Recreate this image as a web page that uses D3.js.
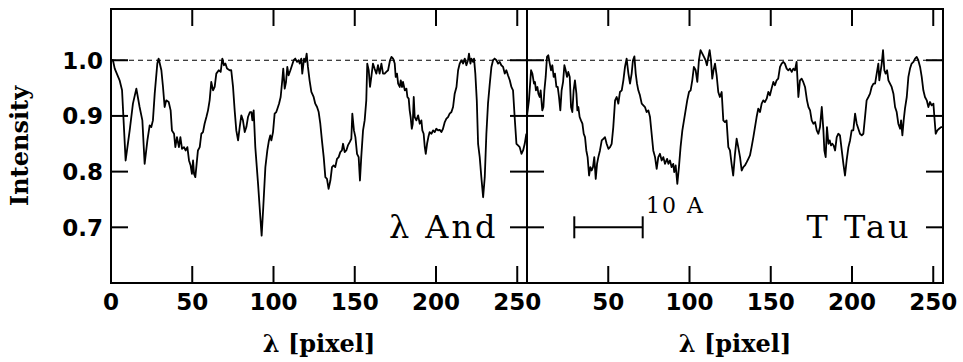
<!DOCTYPE html>
<html>
<head>
<meta charset="utf-8">
<script src="https://cdn.jsdelivr.net/npm/d3@7"></script>
<style>
  body { margin: 0; background: #fff; }
  .tick-label { font-family: "DejaVu Sans", sans-serif; font-weight: bold; font-size: 23px; }
  .axis-title { font-family: "DejaVu Serif", serif; font-weight: bold; font-size: 24px; }
  .star { font-family: "DejaVu Serif", serif; font-size: 32px; letter-spacing: 3px; }
  .scale-text { font-family: "DejaVu Serif", serif; font-size: 22px; letter-spacing: 2px; }
</style>
</head>
<body>
<div id="chart"></div>
<script>
// spectra: [pixel, intensity]
const lamAnd = [
  [0, 1.0], [1.2, 1.0], [2.3, 0.985], [5.3, 0.964], [6.8, 0.946], [9.0, 0.82], [11.5, 0.874],
  [13.5, 0.922], [15.6, 0.949], [17.6, 0.916], [19.3, 0.892], [20.7, 0.814], [22.4, 0.856],
  [23.8, 0.883], [24.8, 0.88], [25.8, 0.892], [26.9, 0.94], [28.5, 0.994], [29.3, 1.003],
  [31.0, 0.982], [32.0, 0.952], [33.0, 0.916], [34.0, 0.928], [35.5, 0.925], [36.7, 0.91],
  [37.5, 0.874], [38.8, 0.868], [39.6, 0.844], [40.6, 0.862], [41.8, 0.844], [42.7, 0.862],
  [43.7, 0.841], [44.9, 0.844], [45.9, 0.838], [47.0, 0.844], [48.0, 0.82], [49.0, 0.811],
  [49.8, 0.796], [50.5, 0.82], [51.1, 0.796], [51.9, 0.79], [52.7, 0.814], [53.5, 0.838],
  [54.6, 0.844], [55.6, 0.868], [56.6, 0.871], [57.6, 0.886], [58.7, 0.898], [59.7, 0.91],
  [60.7, 0.928], [61.7, 0.961], [62.8, 0.946], [63.8, 0.952], [64.8, 0.976], [66.3, 0.982],
  [67.5, 0.979], [68.5, 1.003], [69.5, 0.991], [70.4, 0.994], [71.4, 0.985], [73.0, 0.982],
  [74.0, 0.982], [75.1, 0.952], [76.1, 0.91], [77.1, 0.874], [78.2, 0.856], [79.2, 0.88],
  [80.2, 0.901], [81.2, 0.892], [82.3, 0.871], [83.3, 0.88], [84.3, 0.898], [85.5, 0.907],
  [86.4, 0.907], [87.0, 0.892], [87.8, 0.91], [88.8, 0.844], [90.5, 0.778], [91.9, 0.718],
  [92.7, 0.685], [93.7, 0.736], [95.0, 0.808], [96.2, 0.838], [97.2, 0.856], [98.0, 0.865],
  [98.7, 0.856], [99.7, 0.871], [100.7, 0.904], [101.7, 0.907], [102.4, 0.913], [103.4, 0.922],
  [104.4, 0.934], [105.4, 0.964], [106.0, 0.985], [106.9, 0.949], [107.7, 0.961], [108.5, 0.988],
  [109.3, 0.973], [110.4, 0.982], [111.4, 0.991], [112.4, 1.0], [113.4, 1.003], [114.5, 0.997],
  [115.5, 1.0], [116.1, 0.994], [117.1, 1.003], [117.7, 0.976], [118.8, 1.003], [119.6, 0.997],
  [120.4, 1.012], [121.2, 0.988], [122.2, 0.964], [123.3, 0.943], [124.7, 0.934], [125.7, 0.922],
  [126.8, 0.916], [127.8, 0.907], [128.8, 0.886], [129.8, 0.856], [130.9, 0.826], [131.9, 0.79],
  [132.9, 0.787], [133.9, 0.769], [135.0, 0.784], [136.0, 0.808], [137.0, 0.811], [138.0, 0.808],
  [139.1, 0.823], [140.1, 0.826], [141.1, 0.835], [142.1, 0.838], [142.8, 0.85], [143.8, 0.835],
  [144.8, 0.838], [145.8, 0.847], [146.9, 0.853], [147.9, 0.859], [148.5, 0.904], [149.5, 0.874],
  [150.4, 0.862], [151.4, 0.832], [152.4, 0.826], [153.2, 0.784], [154.0, 0.826], [155.1, 0.874],
  [156.1, 0.892], [157.1, 0.928], [157.7, 0.994], [158.6, 0.982], [159.4, 0.952], [160.2, 0.97],
  [161.2, 0.994], [162.2, 0.985], [163.3, 0.976], [164.3, 0.991], [165.3, 0.976], [166.4, 0.994],
  [167.4, 0.976], [168.4, 0.976], [169.4, 0.979], [170.5, 0.982], [171.7, 1.0], [172.6, 1.006],
  [173.6, 1.003], [174.6, 0.994], [175.2, 0.97], [176.0, 0.976], [176.7, 0.958], [177.7, 0.952],
  [178.3, 0.964], [179.1, 0.952], [179.7, 0.961], [180.8, 0.946], [181.8, 0.949], [182.4, 0.934],
  [183.2, 0.931], [183.8, 0.91], [184.4, 0.898], [185.1, 0.877], [185.7, 0.886], [186.3, 0.934],
  [186.9, 0.898], [187.9, 0.892], [189.0, 0.901], [190.0, 0.886], [191.0, 0.892], [191.6, 0.874],
  [192.4, 0.868], [193.1, 0.844], [193.7, 0.832], [194.5, 0.85], [195.3, 0.862], [196.1, 0.871],
  [197.2, 0.868], [198.2, 0.874], [199.2, 0.871], [200.2, 0.877], [201.3, 0.874], [202.3, 0.875],
  [203.3, 0.871], [204.3, 0.877], [205.4, 0.889], [206.4, 0.895], [207.4, 0.898], [208.4, 0.904],
  [209.5, 0.907], [210.5, 0.916], [211.5, 0.94], [212.6, 0.952], [213.6, 0.982], [214.6, 0.994],
  [215.6, 1.0], [216.7, 0.994], [217.7, 1.003], [218.7, 0.991], [219.7, 1.0], [220.3, 1.012],
  [221.2, 0.994], [221.8, 1.003], [222.8, 0.997], [223.4, 1.003], [224.2, 0.976], [225.1, 0.928],
  [225.9, 0.85], [226.9, 0.826], [227.9, 0.79], [229.0, 0.754], [230.0, 0.79], [231.0, 0.868],
  [232.0, 0.922], [233.1, 0.958], [234.1, 0.988], [235.1, 1.0], [236.1, 1.003], [237.2, 1.0],
  [238.2, 0.994], [239.2, 0.997], [240.2, 0.991], [241.3, 0.988], [242.3, 0.976], [243.3, 0.982],
  [244.3, 0.973], [245.4, 0.964], [246.4, 0.952], [247.4, 0.946], [248.4, 0.898], [249.5, 0.85],
  [250.5, 0.847], [251.5, 0.844], [252.6, 0.832], [253.6, 0.838], [254.6, 0.85], [255.6, 0.868]
];

const tTau = [
  [0, 0.9], [1.2, 0.928], [2.5, 0.982], [3.3, 0.976], [4.3, 0.958], [4.9, 0.961], [5.5, 0.946],
  [6.4, 0.952], [7.0, 0.94], [7.8, 0.934], [8.4, 0.946], [9.4, 0.91], [10.1, 0.916], [10.7, 0.946],
  [11.5, 0.97], [12.3, 1.006], [13.1, 1.009], [14.0, 0.994], [14.8, 0.982], [15.6, 0.991],
  [16.4, 0.97], [17.2, 0.976], [18.1, 0.952], [18.9, 0.952], [19.7, 0.934], [20.5, 0.91],
  [21.3, 0.946], [22.2, 0.961], [23.0, 0.991], [23.8, 0.982], [24.6, 0.97], [25.4, 0.979],
  [26.3, 0.97], [27.1, 0.916], [27.9, 0.907], [28.7, 0.946], [29.5, 0.964], [30.4, 0.94],
  [31.0, 0.91], [31.6, 0.916], [32.4, 0.898], [33.2, 0.892], [34.1, 0.886], [34.9, 0.868],
  [35.7, 0.862], [36.5, 0.838], [37.3, 0.826], [38.2, 0.793], [39.0, 0.808], [39.8, 0.802],
  [40.6, 0.808], [41.4, 0.826], [42.3, 0.787], [43.1, 0.814], [43.9, 0.826], [44.9, 0.838],
  [46.0, 0.856], [47.0, 0.859], [48.0, 0.862], [49.0, 0.85], [50.1, 0.841], [51.1, 0.844],
  [52.1, 0.85], [53.1, 0.88], [54.2, 0.928], [55.2, 0.934], [56.2, 0.922], [57.2, 0.943],
  [58.3, 0.946], [59.3, 0.964], [60.3, 0.988], [61.3, 1.003], [62.4, 0.976], [63.4, 0.958],
  [64.4, 0.976], [65.2, 1.0], [66.1, 1.007], [66.9, 0.976], [67.7, 0.958], [68.5, 0.946],
  [69.5, 0.937], [70.6, 0.922], [71.6, 0.919], [72.6, 0.916], [73.6, 0.907], [74.7, 0.91],
  [75.7, 0.898], [76.7, 0.868], [77.7, 0.838], [78.8, 0.826], [79.8, 0.805], [80.8, 0.826],
  [81.8, 0.832], [82.9, 0.82], [83.9, 0.826], [84.9, 0.814], [86.2, 0.823], [87.0, 0.814],
  [88.0, 0.82], [89.0, 0.808], [90.0, 0.814], [90.6, 0.799], [91.5, 0.811], [92.5, 0.778],
  [93.5, 0.808], [94.5, 0.844], [95.6, 0.874], [96.6, 0.892], [97.6, 0.91], [98.6, 0.928],
  [99.7, 0.943], [100.7, 0.946], [101.7, 0.964], [102.7, 0.988], [103.8, 0.982], [104.8, 0.961],
  [105.8, 1.0], [106.8, 1.018], [107.9, 1.012], [108.9, 1.006], [109.9, 1.0], [110.7, 0.991],
  [111.6, 1.006], [112.4, 1.018], [113.2, 1.0], [114.0, 0.967], [114.8, 0.982], [115.7, 0.994],
  [116.7, 0.973], [117.7, 0.943], [118.7, 0.934], [119.8, 0.943], [120.8, 0.892], [121.8, 0.889],
  [122.8, 0.892], [123.9, 0.844], [124.9, 0.838], [125.9, 0.814], [126.9, 0.793], [128.0, 0.832],
  [129.0, 0.859], [130.0, 0.844], [131.1, 0.826], [132.1, 0.802], [133.1, 0.808], [134.1, 0.811],
  [135.2, 0.817], [136.2, 0.823], [137.2, 0.829], [138.2, 0.844], [139.3, 0.862], [140.3, 0.88],
  [141.3, 0.898], [142.3, 0.913], [143.4, 0.907], [144.4, 0.922], [145.4, 0.928], [146.4, 0.925],
  [147.5, 0.931], [148.5, 0.943], [149.5, 0.937], [150.5, 0.949], [151.6, 0.961], [152.6, 0.955],
  [153.6, 0.964], [154.6, 0.967], [155.7, 0.988], [156.7, 0.994], [157.7, 0.997], [158.7, 0.994],
  [159.8, 0.985], [160.8, 0.982], [161.8, 0.985], [162.9, 0.979], [163.9, 0.985], [164.9, 0.982],
  [165.9, 0.997], [167.0, 0.934], [168.0, 0.964], [169.0, 0.967], [170.0, 0.961], [171.1, 0.952],
  [172.3, 0.928], [173.2, 0.916], [174.2, 0.91], [175.2, 0.892], [176.2, 0.886], [177.3, 0.889],
  [178.3, 0.874], [179.3, 0.868], [180.3, 0.88], [181.4, 0.916], [182.4, 0.874], [183.0, 0.838],
  [183.8, 0.826], [184.6, 0.88], [185.5, 0.85], [186.3, 0.856], [187.1, 0.847], [187.9, 0.85],
  [188.7, 0.847], [189.6, 0.838], [190.6, 0.862], [191.6, 0.868], [192.6, 0.865], [193.7, 0.838],
  [194.7, 0.814], [195.7, 0.793], [196.7, 0.82], [197.8, 0.844], [198.8, 0.856], [199.8, 0.874],
  [200.8, 0.874], [201.9, 0.904], [202.9, 0.886], [203.9, 0.877], [204.9, 0.868], [206.0, 0.865],
  [207.0, 0.868], [208.0, 0.898], [209.0, 0.928], [210.1, 0.934], [211.1, 0.94], [212.1, 0.952],
  [213.2, 0.958], [214.2, 0.958], [215.2, 0.976], [216.2, 0.994], [216.8, 0.964], [217.7, 0.982],
  [218.3, 0.994], [219.1, 1.018], [219.9, 0.982], [220.7, 0.976], [221.6, 0.982], [222.4, 0.964],
  [223.4, 0.958], [224.4, 0.952], [225.5, 0.94], [226.5, 0.916], [227.5, 0.907], [228.5, 0.886],
  [229.6, 0.877], [230.2, 0.892], [231.0, 0.865], [231.8, 0.892], [232.6, 0.913], [233.7, 0.934],
  [234.7, 0.97], [235.7, 0.985], [236.7, 0.994], [237.8, 0.997], [238.8, 1.003], [239.8, 1.006],
  [240.8, 1.0], [241.9, 0.988], [242.9, 0.97], [243.9, 0.946], [244.9, 0.934], [246.0, 0.928],
  [247.0, 0.916], [248.0, 0.925], [249.0, 0.919], [250.1, 0.922], [250.7, 0.898], [251.5, 0.868],
  [252.5, 0.874], [253.6, 0.877], [254.8, 0.88], [256, 0.88]
];

const xTicks = [0, 50, 100, 150, 200, 250];
const yTicks = [0.7, 0.8, 0.9, 1.0];
const starNames = ["λ And", "T Tau"];
const starLabelPos = [[238.5, 0.681], [236.7, 0.681]]; // right end of text, baseline
const scaleBar = [29.1, 71.2];      // pixels spanning 10 A, right panel
const scaleBarLevel = 0.7;
const scaleText = "10 A";
const scaleTextPos = [73.2, 0.725];
const xTitle = "λ [pixel]";
const yTitle = "Intensity";

const width = 963, height = 362;
const plotTop = 9, plotBottom = 283;
const panelLeft = [111, 527], panelW = 416;
const tickLen = 17;

const svg = d3.select("#chart").append("svg")
  .attr("width", width)
  .attr("height", height);

const yScale = d3.scaleLinear().domain([0.6, 1.092]).range([plotBottom, plotTop]);

const line = (xs) => d3.line()
  .x(d => xs(d[0]))
  .y(d => yScale(d[1]));

[lamAnd, tTau].forEach((data, p) => {
  const x0 = panelLeft[p];
  const xScale = d3.scaleLinear().domain([0, 256]).range([x0, x0 + panelW]);
  const g = svg.append("g");

  // continuum level
  g.append("line")
    .attr("x1", x0).attr("x2", x0 + panelW)
    .attr("y1", yScale(1.0)).attr("y2", yScale(1.0))
    .attr("stroke", "#000").attr("stroke-width", 1.2)
    .attr("stroke-dasharray", "5,4");

  // spectrum
  g.append("path")
    .datum(data)
    .attr("fill", "none")
    .attr("stroke", "#000")
    .attr("stroke-width", 1.8)
    .attr("stroke-linejoin", "round")
    .attr("d", line(xScale));

  // ticks on all four sides, pointing inward
  const xt = xTicks.filter(t => t > 0);
  g.selectAll(".xtb").data(xt).enter().append("line")
    .attr("x1", d => xScale(d)).attr("x2", d => xScale(d))
    .attr("y1", plotBottom).attr("y2", plotBottom - tickLen)
    .attr("stroke", "#000").attr("stroke-width", 2);
  g.selectAll(".xtt").data(xt).enter().append("line")
    .attr("x1", d => xScale(d)).attr("x2", d => xScale(d))
    .attr("y1", plotTop).attr("y2", plotTop + tickLen)
    .attr("stroke", "#000").attr("stroke-width", 2);
  g.selectAll(".ytl").data(yTicks).enter().append("line")
    .attr("x1", x0).attr("x2", x0 + tickLen)
    .attr("y1", d => yScale(d)).attr("y2", d => yScale(d))
    .attr("stroke", "#000").attr("stroke-width", 2);
  g.selectAll(".ytr").data(yTicks).enter().append("line")
    .attr("x1", x0 + panelW).attr("x2", x0 + panelW - tickLen)
    .attr("y1", d => yScale(d)).attr("y2", d => yScale(d))
    .attr("stroke", "#000").attr("stroke-width", 2);

  // frame
  g.append("rect")
    .attr("x", x0).attr("y", plotTop)
    .attr("width", panelW).attr("height", plotBottom - plotTop)
    .attr("fill", "none").attr("stroke", "#000").attr("stroke-width", 2);

  // x tick labels (right panel skips 0, it would sit on the left panel's 250)
  g.selectAll(".xl").data(p === 0 ? xTicks : xt).enter().append("text")
    .attr("class", "tick-label")
    .attr("x", d => xScale(d))
    .attr("y", 310)
    .attr("text-anchor", "middle")
    .text(d => d);

  // star name
  g.append("text")
    .attr("class", "star")
    .attr("x", xScale(starLabelPos[p][0]))
    .attr("y", yScale(starLabelPos[p][1]))
    .attr("text-anchor", "end")
    .text(starNames[p]);

  // x title
  g.append("text")
    .attr("class", "axis-title")
    .attr("x", x0 + panelW / 2)
    .attr("y", 352)
    .attr("text-anchor", "middle")
    .text(xTitle);

  if (p === 1) {
    const yb = yScale(scaleBarLevel);
    g.append("line")
      .attr("x1", xScale(scaleBar[0])).attr("x2", xScale(scaleBar[1]))
      .attr("y1", yb).attr("y2", yb)
      .attr("stroke", "#000").attr("stroke-width", 2);
    g.selectAll(".cap").data(scaleBar).enter().append("line")
      .attr("x1", d => xScale(d)).attr("x2", d => xScale(d))
      .attr("y1", yb - 11).attr("y2", yb + 11)
      .attr("stroke", "#000").attr("stroke-width", 2);
    g.append("text")
      .attr("class", "scale-text")
      .attr("x", xScale(scaleTextPos[0]))
      .attr("y", yScale(scaleTextPos[1]))
      .text(scaleText);
  }
});

// y tick labels
svg.selectAll(".yl").data(yTicks).enter().append("text")
  .attr("class", "tick-label")
  .attr("x", 103)
  .attr("y", d => yScale(d))
  .attr("dy", "0.36em")
  .attr("text-anchor", "end")
  .text(d => d.toFixed(1));

svg.append("text")
  .attr("class", "axis-title")
  .attr("transform", "translate(28," + (plotTop + plotBottom) / 2 + ") rotate(-90)")
  .attr("text-anchor", "middle")
  .text(yTitle);
</script>
</body>
</html>
